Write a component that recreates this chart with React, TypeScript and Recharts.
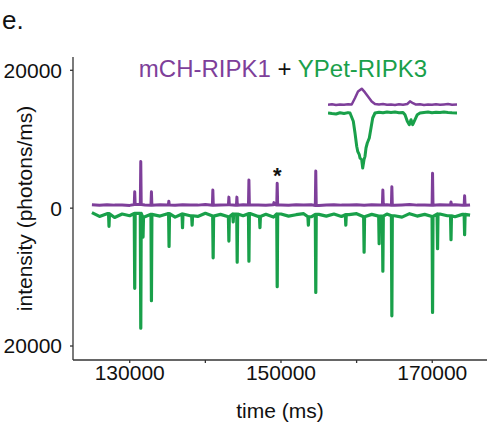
import { LineChart, Line, XAxis, YAxis, ReferenceDot } from "recharts";

const PURPLE = "#7e3f9a";
const GREEN = "#19a04a";
const FONT = "'Liberation Sans', Arial, sans-serif";

// baseline samples, one per second from 125000 ms
const baseStart = 125000;
const baseStep = 1000;
const purpleBase = [
  480, 420, 510, 440, 470, 400, 520, 450, 430, 490, 460, 410, 500, 470, 440, 520, 430,
  460, 480, 410, 500, 450, 470, 430, 510, 460, 420, 490, 450, 480, 400, 470, 510, 440,
  460, 490, 420, 480, 450, 500, 430, 470, 520, 440, 460, 410, 490, 450, 480, 430, 470,
];
const greenBase = [
  -650, -1200, -800, -1350, -850, -1100, -750, -1250, -900, -1150, -800, -1300, -850,
  -1100, -1200, -750, -1150, -900, -1250, -850, -1100, -800, -1200, -900, -1300, -850,
  -1150, -950, -800, -1250, -900, -1150, -850, -1200, -950, -800, -1250, -900, -1150,
  -850, -1100, -1300, -800, -1150, -900, -1200, -850, -1100, -1250, -900, -1000,
];

// spikes (time ms, intensity)
const purpleSpikeTimes = [
  130660, 131460, 132870, 135170, 140990, 143110, 144170, 145760, 149070, 149500,
  154600, 163470, 164660, 170040, 172480, 174280,
];
const purpleSpikeValues = [
  2380, 6760, 2380, 1000, 2630, 1600, 1600, 4090, 800, 3600,
  5400, 2630, 3100, 5060, 900, 1800,
];
const greenSpikeTimes = [
  127260, 130660, 131460, 131760, 132870, 135200, 136980, 138250, 141030, 143110,
  143680, 144210, 145760, 147220, 149500, 153620, 154600, 158570, 160990, 162980,
  163470, 164660, 170040, 170700, 172480, 174280,
];
const greenSpikeValues = [
  -2630, -11630, -17420, -4190, -13430, -5550, -2820, -2480, -7200, -4770,
  -2000, -7840, -7690, -2820, -11390, -2480, -12220, -2480, -6380, -5160,
  -9150, -15620, -15140, -5890, -4570, -3840,
];

// inset (zoomed event), arbitrary units
const insetPurpleX = [
  0, 4, 8, 12, 16, 20, 23.7, 27, 30, 33.7, 37, 40, 43.7, 47, 51, 55, 59, 63, 67, 71, 75,
  79.3, 82, 85, 88, 92, 96, 100, 104, 108, 112, 116, 120, 124, 129,
];
const insetPurpleY = [
  8.3, 8.8, 8, 8.6, 8.2, 8.7, 8.5, 15, 21.6, 24.3, 20.6, 16.6, 11.6, 9, 8.5, 8.9, 8.2, 8.6,
  8.1, 8.8, 8.3, 9, 11.6, 9.8, 8.4, 8.8, 8.1, 8.5, 8.2, 8.7, 8.3, 8.6, 8.9, 8.2, 8.4,
];
const insetGreenX = [
  0, 4, 8, 12, 16, 20, 22, 25.3, 27, 28.7, 29.7, 31.3, 32, 33.7, 34.7, 36, 37, 38, 39.3,
  41.3, 42.7, 44.7, 47, 51, 55, 59, 63, 67, 71, 75, 77, 79.3, 81.3, 83, 84.7, 87, 89.3, 92,
  96, 100, 104, 108, 112, 116, 120, 124, 129,
];
const insetGreenY = [
  0, -0.6, -1, 0.3, -0.5, 0.4, 0, -8.3, -20, -33.3, -38.3, -41.7, -45, -46.7, -55, -46.7,
  -43.3, -35, -30, -25, -16.7, -5, 0, 0.8, 0.2, 1, 0.4, 0.9, 0.3, 0.6, -1.7, -8.3, -11.7,
  -6.7, -11.7, -6.7, -1.7, 0, 0.6, 0.9, 0.2, 0.8, 0.4, 1, 0.5, 0.2, 0,
];

const xTicks = [130000, 140000, 150000, 160000, 170000];
const xTickLabels = ["130000", "", "150000", "", "170000"];
const yTicks = [-20000, 0, 20000];
const yTickLabels = ["20000", "0", "20000"];

function buildTrace(base: number[], spikeT: number[], spikeV: number[]) {
  const pts: { t: number; v: number }[] = [];
  base.forEach((v, i) => {
    const t = baseStart + i * baseStep;
    if (spikeT.every((s) => Math.abs(s - t) > 150)) pts.push({ t, v });
  });
  spikeT.forEach((s, i) => {
    const level = base[Math.round((s - baseStart) / baseStep)];
    pts.push({ t: s - 60, v: level }, { t: s, v: spikeV[i] }, { t: s + 60, v: level });
  });
  return pts.sort((a, b) => a.t - b.t);
}

const purpleData = buildTrace(purpleBase, purpleSpikeTimes, purpleSpikeValues);
const greenData = buildTrace(greenBase, greenSpikeTimes, greenSpikeValues);
const insetPurple = insetPurpleX.map((x, i) => ({ x, v: insetPurpleY[i] }));
const insetGreen = insetGreenX.map((x, i) => ({ x, v: insetGreenY[i] }));

const tickStyle = { fill: "#111", fontSize: 21, fontFamily: FONT };

export default function App() {
  return (
    <div style={{ position: "absolute", left: 0, top: 0, width: 487, height: 429, background: "#fff" }}>
      <LineChart width={487} height={429} margin={{ top: 57, right: 0, bottom: 39, left: 13 }}>
        <XAxis
          type="number"
          dataKey="t"
          domain={[122500, 177240]}
          allowDataOverflow
          ticks={xTicks}
          tickFormatter={(v: number) => xTickLabels[xTicks.indexOf(v)] ?? ""}
          height={30}
          tickSize={3}
          tickMargin={2}
          stroke="#333"
          strokeWidth={1.3}
          tick={tickStyle}
          label={{ value: "time (ms)", position: "bottom", offset: 13, style: { ...tickStyle } }}
        />
        <YAxis
          type="number"
          domain={[-22030, 21930]}
          allowDataOverflow
          ticks={yTicks}
          tickFormatter={(v: number) => yTickLabels[yTicks.indexOf(v)] ?? ""}
          width={60}
          tickSize={3}
          tickMargin={8}
          stroke="#333"
          strokeWidth={1.3}
          tick={tickStyle}
          label={{
            value: "intensity (photons/ms)",
            angle: -90,
            position: "insideLeft",
            offset: 12,
            style: { ...tickStyle, textAnchor: "middle" },
          }}
        />
        <Line
          data={greenData}
          dataKey="v"
          type="linear"
          stroke={GREEN}
          strokeWidth={3.2}
          dot={false}
          strokeLinejoin="round"
          isAnimationActive={false}
        />
        <Line
          data={purpleData}
          dataKey="v"
          type="linear"
          stroke={PURPLE}
          strokeWidth={3}
          dot={false}
          strokeLinejoin="round"
          isAnimationActive={false}
        />
        <ReferenceDot
          x={149500}
          y={3600}
          r={0}
          label={{ value: "*", position: "top", offset: 0, style: { fill: "#111", fontSize: 22, fontWeight: 700, fontFamily: FONT } }}
        />
      </LineChart>

      <div style={{ position: "absolute", left: 328, top: 80 }}>
        <LineChart width={131} height={90} margin={{ top: 0, right: 0, bottom: 0, left: 0 }}>
          <XAxis type="number" dataKey="x" domain={[0, 131]} hide />
          <YAxis type="number" domain={[-57, 33]} hide />
          <Line
            data={insetGreen}
            dataKey="v"
            stroke={GREEN}
            strokeWidth={3}
            dot={false}
            strokeLinejoin="round"
            isAnimationActive={false}
          />
          <Line
            data={insetPurple}
            dataKey="v"
            stroke={PURPLE}
            strokeWidth={2.5}
            dot={false}
            strokeLinejoin="round"
            isAnimationActive={false}
          />
        </LineChart>
      </div>

      <svg width={487} height={429} style={{ position: "absolute", left: 0, top: 0, pointerEvents: "none" }}>
        <text x={2} y={29} fontSize={26} fontFamily={FONT} fill="#111">
          e.
        </text>
        <text x={283} y={77} fontSize={24} fontFamily={FONT} textAnchor="middle" style={{ whiteSpace: "pre" }}>
          <tspan fill={PURPLE}>mCH-RIPK1</tspan>
          <tspan fill="#111"> + </tspan>
          <tspan fill={GREEN}>YPet-RIPK3</tspan>
        </text>
      </svg>
    </div>
  );
}
